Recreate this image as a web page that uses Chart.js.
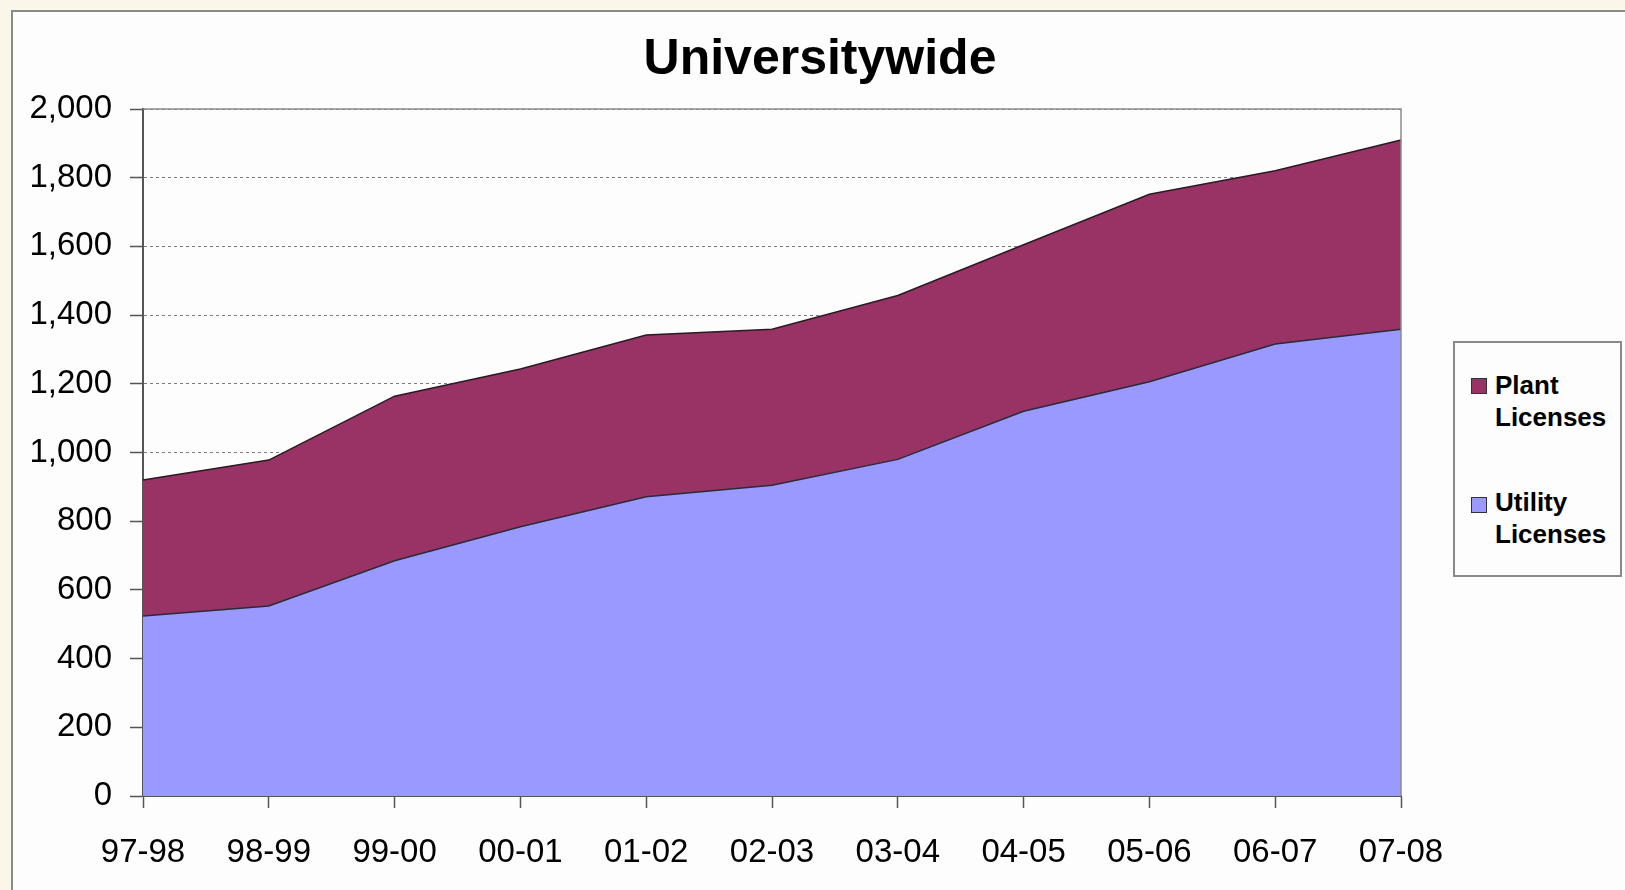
<!DOCTYPE html>
<html>
<head>
<meta charset="utf-8">
<script src="https://cdn.jsdelivr.net/npm/chart.js@4/dist/chart.umd.min.js"></script>
<style>
  html, body { margin: 0; padding: 0; }
  body { width: 1625px; height: 890px; background: #faf6ea; position: relative; overflow: hidden;
         font-family: "Liberation Sans", Arial, sans-serif; }
  #frame { position: absolute; left: 11px; top: 10px; width: 1700px; height: 950px;
           background: #fdfdfd; border-left: 2px solid #8a8a8a; border-top: 2px solid #8a8a8a; }
  #chartBox { position: absolute; left: 0; top: 0; width: 1625px; height: 890px; }
  #title { position: absolute; left: 620px; top: 32px; width: 400px; text-align: center;
           font-size: 50px; line-height: 50px; font-weight: bold; color: #000; }
  #legend { position: absolute; left: 1453px; top: 341px; width: 165px; height: 232px;
            border: 2px solid #8a8a8a; background: #fdfdfd; }
  .sw { position: absolute; left: 16px; width: 14px; height: 14px; border: 1px solid #333; }
  .lt { position: absolute; left: 40px; font-size: 26px; line-height: 32px; font-weight: bold; color: #000; }
</style>
</head>
<body>
<div id="frame"></div>
<div id="chartBox"><canvas id="uwChart"></canvas></div>
<div id="title">Universitywide</div>
<div id="legend"></div>
<script>
const years = ["97-98", "98-99", "99-00", "00-01", "01-02", "02-03", "03-04", "04-05", "05-06", "06-07", "07-08"];
const utilityLicenses = [524, 553, 685, 784, 871, 905, 980, 1120, 1206, 1316, 1359];
const plantLicenses = [396, 425, 479, 459, 471, 454, 477, 485, 546, 504, 551];
const seriesNames = [["Plant", "Licenses"], ["Utility", "Licenses"]];
const plantColor = "#993366";
const utilityColor = "#9999ff";

// html legend, Plant on top as in the original
const legendEl = document.getElementById("legend");
[[seriesNames[0], plantColor, 35, 26], [seriesNames[1], utilityColor, 154, 143]].forEach(function (item) {
  const sw = document.createElement("div");
  sw.className = "sw";
  sw.style.top = item[2] + "px";
  sw.style.background = item[1];
  legendEl.appendChild(sw);
  const tx = document.createElement("div");
  tx.className = "lt";
  tx.style.top = item[3] + "px";
  tx.innerHTML = item[0].join("<br>");
  legendEl.appendChild(tx);
});

// grey frame round the plot area, like the spreadsheet chart
const plotFrame = {
  id: "plotFrame",
  afterDatasetsDraw(chart) {
    const a = chart.chartArea;
    const ctx = chart.ctx;
    ctx.save();
    ctx.strokeStyle = "#8c8c8c";
    ctx.lineWidth = 1.5;
    ctx.beginPath();
    ctx.moveTo(a.left, a.top);
    ctx.lineTo(a.right, a.top);
    ctx.lineTo(a.right, a.bottom);
    ctx.stroke();
    ctx.restore();
  }
};

const DISPLAY = document.getElementById("uwChart");
let uwChart = new Chart(DISPLAY, {
  type: "line",
  data: {
    labels: years,
    datasets: [{
      label: "Utility Licenses",
      data: utilityLicenses,
      backgroundColor: utilityColor,
      borderColor: "#2a2a3a",
      borderWidth: 1.5,
      fill: "origin",
      pointRadius: 0,
      tension: 0
    }, {
      label: "Plant Licenses",
      data: plantLicenses,
      backgroundColor: plantColor,
      borderColor: "#2a1a22",
      borderWidth: 1.5,
      fill: "-1",
      pointRadius: 0,
      tension: 0
    }]
  },
  options: {
    responsive: true,
    maintainAspectRatio: false,
    animation: false,
    layout: { padding: { left: 0, top: 109, right: 224, bottom: 0 } },
    plugins: {
      legend: { display: false },
      title: { display: false },
      tooltip: { enabled: false }
    },
    scales: {
      x: {
        offset: false,
        grid: { drawOnChartArea: false, tickLength: 12, tickColor: "#555", tickWidth: 1.5 },
        border: { color: "#555", width: 2 },
        ticks: {
          color: "#000", padding: 25, maxRotation: 0, autoSkip: false,
          font: { family: "'Liberation Sans', Arial, sans-serif", size: 33 }
        },
        afterFit: function (scale) { scale.height = 94; }
      },
      y: {
        stacked: true,
        min: 0,
        max: 2000,
        grid: { color: "#7a7a7a", lineWidth: 1, tickLength: 13, tickColor: "#555", tickWidth: 1.5, tickBorderDash: [] },
        border: { color: "#555", width: 2, dash: [3, 3] },
        ticks: {
          stepSize: 200, color: "#000", padding: 18,
          font: { family: "'Liberation Sans', Arial, sans-serif", size: 33 },
          callback: function (v) { return v.toLocaleString("en-US"); }
        },
        afterFit: function (scale) { scale.width = 143; }
      }
    }
  },
  plugins: [plotFrame]
});
</script>
</body>
</html>
